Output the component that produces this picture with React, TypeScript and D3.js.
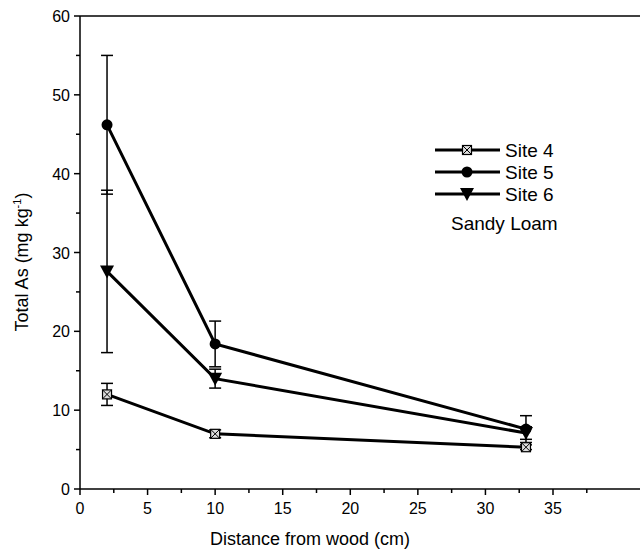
import React from "react";
import * as d3 from "d3";

const distances = [2, 10, 33];
const site4 = [12.0, 7.0, 5.3];
const site4Err = [1.4, 0.5, 0.3];
const site5 = [46.2, 18.4, 7.6];
const site5Err = [8.8, 2.9, 1.7];
const site6 = [27.6, 14.0, 7.1];
const site6Err = [10.3, 1.2, 0.8];
const xTicks = [0, 5, 10, 15, 20, 25, 30, 35];
const yTicks = [0, 10, 20, 30, 40, 50, 60];
const seriesNames = ["Site 4", "Site 5", "Site 6"];

const font = "Liberation Sans, Arial, sans-serif";

function Marker({ kind, x, y }: { kind: string; x: number; y: number }) {
  if (kind === "Site 5") return <circle cx={x} cy={y} r={5.5} fill="#000" />;
  if (kind === "Site 6") {
    const p = d3.path();
    p.moveTo(x - 7, y - 6);
    p.lineTo(x + 7, y - 6);
    p.lineTo(x, y + 7);
    p.closePath();
    return <path d={p.toString()} fill="#000" />;
  }
  const s = 4.5;
  return (
    <g>
      <rect x={x - s} y={y - s} width={2 * s} height={2 * s} fill="#ddd" stroke="#000" strokeWidth={1.2} />
      <line x1={x - s} y1={y - s} x2={x + s} y2={y + s} stroke="#000" strokeWidth={1} />
      <line x1={x - s} y1={y + s} x2={x + s} y2={y - s} stroke="#000" strokeWidth={1} />
    </g>
  );
}

export default function App() {
  const W = 640, H = 556;
  const x = d3.scaleLinear().domain([0, 35]).range([80, 553]);
  const y = d3.scaleLinear().domain([0, 60]).range([489, 16]);
  const series = [
    { name: "Site 4", v: site4, e: site4Err },
    { name: "Site 5", v: site5, e: site5Err },
    { name: "Site 6", v: site6, e: site6Err },
  ];
  const line = d3.line<number>().x((_, i) => x(distances[i])).y((d) => y(d));
  const minorY = d3.range(5, 60, 10);
  const minorX = d3.range(2.5, 40, 5);
  return (
    <svg width={W} height={H} style={{ position: "absolute", left: 0, top: 0 }} fontFamily={font}>
      <rect width={W} height={H} fill="#fff" />
      {/* frame */}
      <line x1={80} y1={16} x2={W} y2={16} stroke="#000" strokeWidth={1.5} />
      <line x1={80} y1={16} x2={80} y2={489} stroke="#000" strokeWidth={1.5} />
      <line x1={80} y1={489} x2={W} y2={489} stroke="#000" strokeWidth={1.5} />
      {yTicks.map((t) => (
        <g key={"y" + t}>
          <line x1={74} x2={80} y1={y(t)} y2={y(t)} stroke="#000" strokeWidth={1.5} />
          <text x={70} y={y(t) + 6} textAnchor="end" fontSize={16}>{t}</text>
        </g>
      ))}
      {minorY.map((t) => (
        <line key={"my" + t} x1={76} x2={80} y1={y(t)} y2={y(t)} stroke="#000" strokeWidth={1.5} />
      ))}
      {xTicks.map((t) => (
        <g key={"x" + t}>
          <line x1={x(t)} x2={x(t)} y1={489} y2={495} stroke="#000" strokeWidth={1.5} />
          <text x={x(t)} y={514} textAnchor="middle" fontSize={16}>{t}</text>
        </g>
      ))}
      {minorX.filter((t) => x(t) < W).map((t) => (
        <line key={"mx" + t} x1={x(t)} x2={x(t)} y1={489} y2={493} stroke="#000" strokeWidth={1.5} />
      ))}
      <text x={310} y={545} textAnchor="middle" fontSize={18}>Distance from wood (cm)</text>
      <text transform={`translate(28,262) rotate(-90)`} textAnchor="middle" fontSize={18}>
        Total As (mg kg<tspan dy={-7} fontSize={11}>-1</tspan><tspan dy={7}>)</tspan>
      </text>
      {/* error bars */}
      {series.map((s) =>
        s.v.map((v, i) => {
          const cx = x(distances[i]);
          const top = y(v + s.e[i]);
          const bot = y(v - s.e[i]);
          return (
            <g key={s.name + "e" + i} stroke="#000" strokeWidth={1.5}>
              <line x1={cx} x2={cx} y1={top} y2={bot} />
              <line x1={cx - 6} x2={cx + 6} y1={top} y2={top} />
              <line x1={cx - 6} x2={cx + 6} y1={bot} y2={bot} />
            </g>
          );
        })
      )}
      {series.map((s) => (
        <path key={s.name} d={line(s.v) || ""} fill="none" stroke="#000" strokeWidth={3} />
      ))}
      {series.map((s) =>
        s.v.map((v, i) => <Marker key={s.name + i} kind={s.name} x={x(distances[i])} y={y(v)} />)
      )}
      {/* legend */}
      {seriesNames.map((n, i) => {
        const ly = 150 + i * 22;
        return (
          <g key={"lg" + n}>
            <line x1={435} x2={500} y1={ly} y2={ly} stroke="#000" strokeWidth={3} />
            <Marker kind={n} x={467} y={ly} />
            <text x={505} y={ly + 7} fontSize={19}>{n}</text>
          </g>
        );
      })}
      <text x={451} y={230} fontSize={19}>Sandy Loam</text>
    </svg>
  );
}
